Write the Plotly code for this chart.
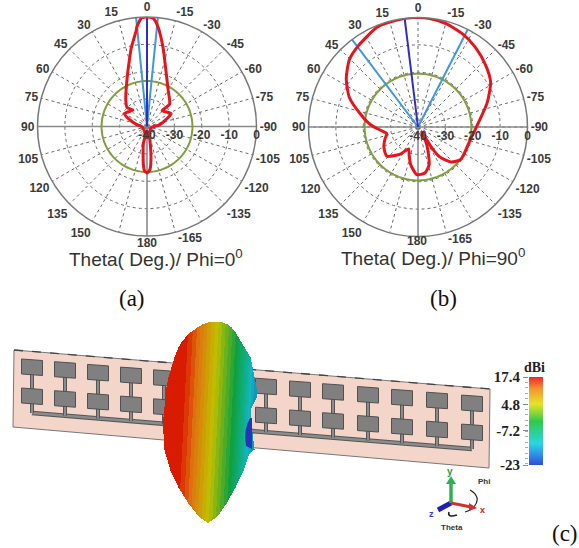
import numpy as np
import plotly.graph_objects as go

# ---- polar pattern data, dB against theta (deg) ----
a_theta = [0, 2.8, 5.8, 6.4, 11.2, 16.5, 22.5, 37.7, 46.6, 40.5, 60, 67.5, 80, 90, 169, 168, 174.5, 176.6, 180,
           -176, -172.7, -168, -164, -102, -82, -61.7, -43.6, -45.3, -29, -17.7, -11.5, -6.3, -3.3, 0]
a_gain = [0, -0.2, -3.4, -4.7, -10.6, -16.5, -21, -27.3, -30, -32.1, -30.5, -32.8, -36.2, -38, -37.4, -33.6, -26.1, -23.9, -23,
          -24.3, -28.6, -34.9, -37.4, -38.3, -35.3, -30, -32, -28.4, -24.2, -17.6, -10.6, -3.4, -0.4, 0]
b_theta = [2.4, 11.1, 22.1, 36.4, 45.6, 56, 66.7, 77.8, 87.5, 95, 101.8, 111, 120.8, 133, 146.8, 156.5, 163, 169, 178.4,
           -171.5, -163.4, -153, -143, -146.4, -144, -136.7, -127, -106.5, -91.4, -70.6, -58.2, -47.4, -36, -25.6, -15.2, -6.2, 2.4]
b_gain = [0, -0.2, -0.6, -3.2, -4.9, -8.4, -12.7, -18.7, -22.8, -26.3, -28.3, -27, -25.5, -24.4, -28.2, -31.3, -29, -26, -22.6,
          -23, -25.7, -33.1, -37.8, -31.1, -26.5, -22.4, -20.4, -20.5, -18.9, -13.2, -8.8, -6.5, -4.2, -2.3, -0.9, -0.1, 0]
a_ref_db, b_ref_db = -23.4, -20.5          # green reference circles
a_main, a_beam = [0], [5.7, -5.7]          # dark-blue main beam, light-blue beam edges
b_main, b_beam = [7], [37, -27]

ang_vals = [0, 15, 30, 45, 60, 75, 90, 105, 120, 135, 150, 225, 240, 255, 270, 285, 300, 315, 330, 345]
ang_text = ["0", "15", "30", "45", "60", "75", "90", "105", "120", "135", "150",
            "-135", "-120", "-105", "-90", "-75", "-60", "-45", "-30", "-15"]
extra_spokes = [165, -165, -150]
rad_vals = [-40, -30, -20, -10, 0]
rad_text = ["-40", "-30", "-20", "-10", "0"]
cross_theta = [90, 90, -90, -90, 90, 180]
cross_r = [0, -40, -40, 0, -40, 0]
circle_theta = list(range(0, 361, 3))

# ---- 3D picture data (pixel readings) ----
col_x = [32, 65, 98, 131, 164, 198, 232, 266, 300, 333, 368, 402, 437, 472]
top_row_y0, lower_row_y0, feed_y0, board_slope = 367, 396, 413, 0.082
disk_y = [322, 324, 327, 332, 337, 342, 347, 352, 357, 367, 377, 387, 397, 407, 417, 433, 449, 453, 470, 487, 503, 513, 518, 522]
disk_left = [208, 202, 197, 190, 185, 181, 178, 176, 174, 171, 168, 166, 165, 164, 163, 163, 164, 165, 170, 178, 188, 196, 201, 207]
disk_right = [222, 227, 231, 235, 238, 241, 244, 247, 250, 252, 254, 256, 256, 251, 250, 252, 254, 249, 243, 235, 226, 219, 214, 208]
band_x = [163, 180, 190, 200, 213, 223, 233, 243, 250, 257]
band_gain = [17.4, 17, 14, 10, 5, 1, -3, -9, -14, -17]
bar_levels = [-23, -18, -13, -8, -3, 1, 5, 9, 13, 17.4]

scale_bar = [[0, "#2f49d8"], [0.12, "#2f8fe8"], [0.25, "#28d8e0"], [0.5, "#30c848"], [0.7, "#e4e428"], [0.88, "#f59030"], [1, "#ee2c2c"]]
scale_disk = [[0, "#1c30b0"], [0.25, "#10b8c0"], [0.5, "#10a040"], [0.7, "#c0c000"], [0.88, "#e07010"], [1, "#d80f00"]]

W, H = 579, 548
fig = go.Figure()

xs = np.arange(160, 260)
ys = np.arange(320, 525)
z = np.full((len(ys), len(xs)), np.nan)
for i, y in enumerate(ys):
    if disk_y[0] <= y <= disk_y[-1]:
        l = np.interp(y, disk_y, disk_left)
        r = np.interp(y, disk_y, disk_right)
        shift = np.interp(y, [322, 522], [5, -5])
        row = np.interp(xs - shift, band_x, band_gain)
        row = np.round(row / 1.4) * 1.4
        row[(xs < l) | (xs > r)] = np.nan
        z[i] = row
fig.add_trace(go.Heatmap(x=xs, y=ys, z=z, zmin=-23, zmax=17.4, colorscale=scale_disk, showscale=False,
                         hoverinfo="skip", xaxis="x", yaxis="y"))
fig.add_trace(go.Heatmap(x=[0], y=bar_levels, z=[[v] for v in bar_levels], zmin=-23, zmax=17.4, zsmooth="best",
                         colorscale=scale_bar, showscale=False, hoverinfo="skip", xaxis="x2", yaxis="y2"))


def polar_traces(name, theta, gain, ref, main, beam):
    for t in extra_spokes:
        fig.add_trace(go.Scatterpolar(theta=[t, t], r=[-40, 0], mode="lines", line=dict(color="#6a6a6a", width=1, dash="dot"),
                                      subplot=name, hoverinfo="skip"))
    fig.add_trace(go.Scatterpolar(theta=cross_theta, r=cross_r, mode="lines", line=dict(color="#8a8a8a", width=1.6),
                                  subplot=name, hoverinfo="skip"))
    fig.add_trace(go.Scatterpolar(theta=circle_theta, r=[ref] * len(circle_theta), mode="lines",
                                  line=dict(color="#7f9f3f", width=2), subplot=name))
    for t in beam:
        fig.add_trace(go.Scatterpolar(theta=[t, t], r=[-40, 0], mode="lines", line=dict(color="#3f97de", width=2), subplot=name))
    for t in main:
        fig.add_trace(go.Scatterpolar(theta=[t, t], r=[-40, 0], mode="lines", line=dict(color="#2f2fc0", width=2), subplot=name))
    fig.add_trace(go.Scatterpolar(theta=theta, r=gain, mode="lines",
                                  line=dict(color="#e8141c", width=3, shape="spline", smoothing=0.6), subplot=name))


polar_traces("polar", a_theta, a_gain, a_ref_db, a_main, a_beam)
polar_traces("polar2", b_theta, b_gain, b_ref_db, b_main, b_beam)

lab = dict(family="Liberation Sans", size=12, color="#3a3a3a", weight="bold")


def polar_layout(cx, cy, R):
    return dict(
        domain=dict(x=[(cx - R) / W, (cx + R) / W], y=[1 - (cy + R) / H, 1 - (cy - R) / H]),
        bgcolor="rgba(0,0,0,0)",
        angularaxis=dict(rotation=90, direction="counterclockwise", tickmode="array", tickvals=ang_vals, ticktext=ang_text,
                         ticks="", tickfont=lab, showgrid=True, gridcolor="#6a6a6a", griddash="dot", gridwidth=1,
                         linecolor="#777777", linewidth=1.5),
        radialaxis=dict(range=[-40, 0], angle=0, tickangle=0, side="clockwise", tickmode="array", tickvals=rad_vals,
                        ticktext=rad_text, ticks="", tickfont=lab, showline=False, gridcolor="#6a6a6a", griddash="dot", gridwidth=1),
    )


shapes = []
def px(x, y, **kw):
    return dict(xref="x", yref="y", layer="below", **kw)

shapes.append(px(0, 0, type="path", path="M 14 350 L 490 389 L 489 468 L 13 427 Z", fillcolor="#f3d6c9",
                 line=dict(color="#777777", width=1)))
shapes.append(px(0, 0, type="line", x0=14, y0=350, x1=490, y1=389, line=dict(color="#444444", width=1.3, dash="dash")))
feed_end = feed_y0 + board_slope * (col_x[-1] - col_x[0])
shapes.append(px(0, 0, type="line", x0=col_x[0], y0=feed_y0, x1=col_x[-1], y1=feed_end, line=dict(color="#555555", width=4.5)))
shapes.append(px(0, 0, type="line", x0=col_x[0], y0=feed_y0, x1=col_x[-1], y1=feed_end, line=dict(color="#8c8c8c", width=2.5)))
for cx in col_x:
    dy = board_slope * (cx - col_x[0])
    ty, ly, fy = top_row_y0 + dy, lower_row_y0 + dy, feed_y0 + dy
    shapes.append(px(0, 0, type="line", x0=cx, y0=ty, x1=cx, y1=fy, line=dict(color="#555555", width=4)))
    shapes.append(px(0, 0, type="line", x0=cx, y0=ty, x1=cx, y1=fy, line=dict(color="#8c8c8c", width=2)))
    for yy in (ty, ly):
        shapes.append(px(0, 0, type="path",
                         path=f"M {cx-10.5} {yy-8} L {cx+10.5} {yy-6.5} L {cx+10.5} {yy+8.5} L {cx-10.5} {yy+7} Z",
                         fillcolor="#808080", line=dict(color="#505050", width=1)))

def above(**kw):
    return dict(xref="x", yref="y", layer="above", **kw)

shapes.append(above(type="path", path="M 250 418 Q 243 430 246 446 L 252 449 L 252 418 Z", fillcolor="#2038b8", line=dict(width=0)))
shapes.append(above(type="path", path="M 470 490 Q 482 497 474 507 Q 470 511 465 512", line=dict(color="#222222", width=1.2)))
shapes.append(above(type="path", path="M 449 512 Q 447 518 457 515", line=dict(color="#222222", width=1.6)))
shapes.append(above(type="line", x0=451, y0=503, x1=438, y1=510, line=dict(color="#2020b0", width=5)))
shapes.append(above(type="line", x0=451, y0=503, x1=451, y1=483, line=dict(color="#30b050", width=3.5)))
shapes.append(above(type="path", path="M 446 484 L 456 484 L 451 476 Z", fillcolor="#30b050", line=dict(width=0)))
shapes.append(above(type="line", x0=451, y0=503, x1=471, y1=507, line=dict(color="#d03030", width=3)))
shapes.append(above(type="path", path="M 469 503 L 469 511 L 477 508 Z", fillcolor="#d03030", line=dict(width=0)))

ann = []
def txt(x, y, s, font, **kw):
    ann.append(dict(x=x, y=y, xref="x", yref="y", text=s, showarrow=False, font=font, xanchor="center", yanchor="middle", **kw))

title_f = dict(family="Liberation Sans", size=19, color="#333333")
serif = dict(family="Liberation Serif", size=23, color="#111111")
txt(156, 258, "Theta( Deg.)/ Phi=0<sup>0</sup>", title_f)
txt(433, 257, "Theta( Deg.)/ Phi=90<sup>0</sup>", title_f)
txt(147, 243, "180", lab)
txt(417, 241, "180", lab)
txt(190, 238, "-165", lab)
txt(460, 239, "-165", lab)
txt(132, 298, "(a)", serif)
txt(443, 298, "(b)", serif)
txt(565, 533, "(c)", serif)
txt(534, 367, "dBi", dict(family="Liberation Serif", size=14, color="#222222", weight="bold"))
small = dict(family="Liberation Sans", size=8, color="#333333", weight="bold")
txt(450, 471, "y", dict(family="Liberation Sans", size=10, color="#20a040", weight="bold"))
txt(482, 510, "x", dict(family="Liberation Sans", size=9, color="#d02020", weight="bold"))
txt(431, 514, "z", dict(family="Liberation Sans", size=9, color="#3040d0", weight="bold"))
txt(484, 481, "Phi", small)
txt(452, 527, "Theta", small)

fig.update_layout(
    width=W, height=H, margin=dict(l=0, r=0, t=0, b=0, autoexpand=False), showlegend=False,
    paper_bgcolor="white", plot_bgcolor="rgba(0,0,0,0)",
    xaxis=dict(domain=[0, 1], range=[0, W], visible=False, fixedrange=True),
    yaxis=dict(domain=[0, 1], range=[H, 0], visible=False, fixedrange=True),
    xaxis2=dict(domain=[529 / W, 543 / W], visible=False, anchor="y2"),
    yaxis2=dict(domain=[1 - 465 / H, 1 - 377 / H], range=[-23, 17.4], anchor="x2", side="left", tickmode="array",
                tickvals=[-23, -7.2, 4.8, 17.4], ticktext=["-23", "-7.2", "4.8", "17.4"], ticks="outside", ticklen=5,
                tickcolor="#888888", showgrid=False, zeroline=False, showline=False,
                tickfont=dict(family="Liberation Serif", size=15, color="#222222", weight="bold"),
                minor=dict(dtick=2.5, ticks="outside", ticklen=3, tickcolor="#aaaaaa")),
    polar=polar_layout(147, 126.5, 109.5),
    polar2=polar_layout(418, 127, 109.5),
    shapes=shapes, annotations=ann,
)
fig.write_html("out.html", post_script="document.body.style.margin='0';", config=dict(displayModeBar=False))
